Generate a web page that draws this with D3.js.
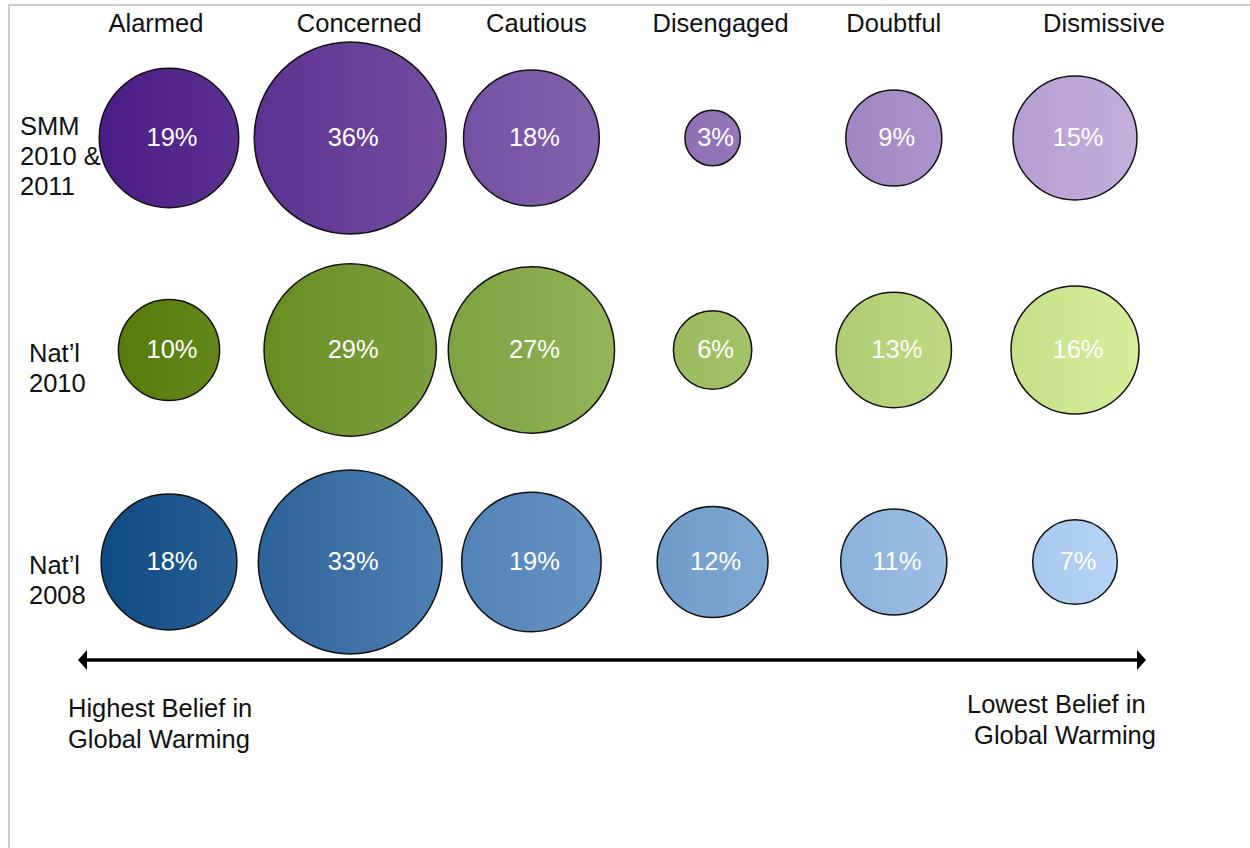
<!DOCTYPE html>
<html>
<head>
<meta charset="utf-8">
<script src="https://cdn.jsdelivr.net/npm/d3@7"></script>
<style>
  html, body { margin: 0; padding: 0; background: #fff; }
  svg { display: block; font-family: "Liberation Sans", Arial, Helvetica, sans-serif; }
</style>
</head>
<body>
<svg id="chart" width="1250" height="848"></svg>
<script>
const categories = ["Alarmed", "Concerned", "Cautious", "Disengaged", "Doubtful", "Dismissive"];
const rows = ["smm", "nat2010", "nat2008"];
const rowLabels = [["SMM", "2010 &", "2011"], ["Nat\u2019l", "2010"], ["Nat\u2019l", "2008"]];
const smm = [19, 36, 18, 3, 9, 15];
const nat2010 = [10, 29, 27, 6, 13, 16];
const nat2008 = [18, 33, 19, 12, 11, 7];
const endLabelsLeft = ["Highest Belief in", "Global Warming"];
const endLabelsRight = ["Lowest Belief in", " Global Warming"];

// dark -> mid -> light per row
const rowColors = [
    ["#4a1c85", "#7450a2", "#c3b0dc"],
    ["#557905", "#80a344", "#d6ee9a"],
    ["#0f4a82", "#5283b6", "#b8d6f8"]
];
// headers in the original are not quite centred over the columns
const headerNudge = [-13, 9, 5, 8, 0, 29];
const fontSize = 25.5;

const svg = d3.select("#chart");
const values = [smm, nat2010, nat2008];

const x = d3.scalePoint().domain(categories).range([169, 1075]);
const y = d3.scalePoint().domain(rows).range([138, 562]);
const r = d3.scaleSqrt().domain([0, 36]).range([0, 96]);

// frame
svg.append("path")
    .attr("d", "M9,848 L9,5 L1250,5")
    .attr("fill", "none")
    .attr("stroke", "#bdbdbd")
    .attr("stroke-width", 1.5);

// gradients, one spanning each row
const defs = svg.append("defs");
rows.forEach((row, i) => {
    let x1 = x.range()[0] - 70, x2 = x.range()[1] + 65;
    let g = defs.append("linearGradient")
        .attr("id", "grad-" + row)
        .attr("gradientUnits", "userSpaceOnUse")
        .attr("x1", x1).attr("x2", x2)
        .attr("y1", 0).attr("y2", 0);
    g.append("stop").attr("offset", "0%").attr("stop-color", rowColors[i][0]);
    g.append("stop").attr("offset", "35%").attr("stop-color", rowColors[i][1]);
    g.append("stop").attr("offset", "100%").attr("stop-color", rowColors[i][2]);
});

// column headers
svg.append("g").selectAll("text")
    .data(categories)
    .join("text")
    .attr("x", (d, i) => x(d) + headerNudge[i])
    .attr("y", 32)
    .attr("text-anchor", "middle")
    .attr("font-size", fontSize)
    .attr("fill", "#111")
    .text(d => d);

// row labels
rows.forEach((row, i) => {
    let lines = rowLabels[i];
    let lx = lines.length === 3 ? 20 : 29;
    let y0 = y(row) + 27 - 15 * (lines.length - 1);
    svg.append("text")
        .attr("x", lx)
        .attr("y", y0)
        .attr("font-size", fontSize)
        .attr("fill", "#111")
        .selectAll("tspan")
        .data(lines)
        .join("tspan")
        .attr("x", lx)
        .attr("dy", (d, j) => j === 0 ? 0 : 30)
        .text(d => d);
});

// bubbles
rows.forEach((row, i) => {
    let cells = categories.map((c, j) => ({cat: c, v: values[i][j]}));
    let g = svg.append("g").attr("class", "row-" + row);

    g.selectAll("circle")
        .data(cells)
        .join("circle")
        .attr("cx", d => x(d.cat))
        .attr("cy", y(row))
        .attr("r", d => r(d.v))
        .attr("fill", `url(#grad-${row})`)
        .attr("stroke", "#111")
        .attr("stroke-width", 1.5);

    g.selectAll("text")
        .data(cells)
        .join("text")
        .attr("x", d => x(d.cat) + 3)
        .attr("y", y(row) - 1)
        .attr("dominant-baseline", "central")
        .attr("text-anchor", "middle")
        .attr("font-size", fontSize)
        .attr("fill", "#fff")
        .text(d => d.v + "%");
});

// arrow
let ay = 660;
svg.append("line")
    .attr("x1", 84).attr("x2", 1140)
    .attr("y1", ay).attr("y2", ay)
    .attr("stroke", "#000")
    .attr("stroke-width", 3.5);
svg.append("path")
    .attr("d", `M78,${ay} L87,${ay - 10} L87,${ay + 10} Z`)
    .attr("fill", "#000");
svg.append("path")
    .attr("d", `M1146,${ay} L1137,${ay - 10} L1137,${ay + 10} Z`)
    .attr("fill", "#000");

// end labels
svg.append("g").selectAll("text")
    .data(endLabelsLeft)
    .join("text")
    .attr("x", 68)
    .attr("y", (d, i) => 717 + i * 31)
    .attr("font-size", fontSize)
    .attr("fill", "#111")
    .text(d => d);

svg.append("g").selectAll("text")
    .data(endLabelsRight)
    .join("text")
    .attr("x", 967)
    .attr("y", (d, i) => 713 + i * 31)
    .attr("font-size", fontSize)
    .attr("fill", "#111")
    .style("white-space", "pre")
    .text(d => d);
</script>
</body>
</html>
